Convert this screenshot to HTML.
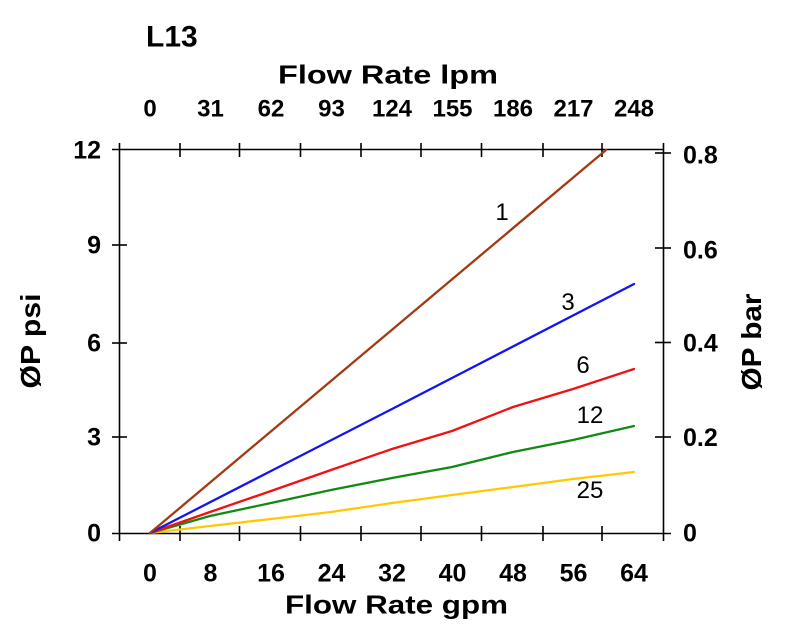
<!DOCTYPE html>
<html>
<head>
<meta charset="utf-8">
<style>
html,body{margin:0;padding:0;background:#fff;}
svg{display:block;}
text{font-family:"Liberation Sans",Arial,sans-serif;fill:#000;}
.b{font-weight:bold;}
</style>
</head>
<body>
<svg width="796" height="640" viewBox="0 0 796 640" xmlns="http://www.w3.org/2000/svg">
<rect width="796" height="640" fill="#fff"/>

<!-- title -->
<text class="b" x="146" y="46.5" font-size="30">L13</text>

<!-- top axis title & labels -->
<text class="b" x="278" y="83.5" font-size="26" textLength="220" lengthAdjust="spacingAndGlyphs">Flow Rate lpm</text>
<g class="b" font-size="24" text-anchor="middle">
<text x="150" y="116.5">0</text>
<text x="210.5" y="116.5">31</text>
<text x="271" y="116.5">62</text>
<text x="331.5" y="116.5">93</text>
<text x="392" y="116.5">124</text>
<text x="452.5" y="116.5">155</text>
<text x="513" y="116.5">186</text>
<text x="573.5" y="116.5">217</text>
<text x="634" y="116.5">248</text>
</g>

<!-- bottom labels -->
<g class="b" font-size="25" text-anchor="middle">
<text x="150" y="581.5">0</text>
<text x="210.5" y="581.5">8</text>
<text x="271" y="581.5">16</text>
<text x="331.5" y="581.5">24</text>
<text x="392" y="581.5">32</text>
<text x="452.5" y="581.5">40</text>
<text x="513" y="581.5">48</text>
<text x="573.5" y="581.5">56</text>
<text x="634" y="581.5">64</text>
</g>
<text class="b" x="285" y="613.5" font-size="26" textLength="223" lengthAdjust="spacingAndGlyphs">Flow Rate gpm</text>

<!-- left labels -->
<g class="b" font-size="25" text-anchor="end">
<text x="101" y="158.5">12</text>
<text x="101" y="253.5">9</text>
<text x="101" y="351.5">6</text>
<text x="101" y="445.5">3</text>
<text x="101" y="541.5">0</text>
</g>
<text class="b" font-size="28" text-anchor="middle" transform="translate(40,341) rotate(-90)" textLength="95" lengthAdjust="spacingAndGlyphs">ØP psi</text>

<!-- right labels -->
<g class="b" font-size="25">
<text x="683" y="163.5">0.8</text>
<text x="683" y="258.5">0.6</text>
<text x="683" y="351.5">0.4</text>
<text x="683" y="446">0.2</text>
<text x="683" y="541.5">0</text>
</g>
<text class="b" font-size="28" text-anchor="middle" transform="translate(761,342) rotate(-90)" textLength="97" lengthAdjust="spacingAndGlyphs">ØP bar</text>

<!-- axes -->
<g stroke="#000" stroke-width="1.6" fill="none">
<line x1="119.5" y1="143" x2="119.5" y2="541"/>
<line x1="663.5" y1="143" x2="663.5" y2="541"/>
<line x1="112" y1="149.5" x2="664" y2="149.5"/>
<line x1="112" y1="533.5" x2="671" y2="533.5"/>
<!-- left ticks -->
<line x1="112" y1="245" x2="127" y2="245"/>
<line x1="112" y1="343" x2="127" y2="343"/>
<line x1="112" y1="437" x2="127" y2="437"/>
<!-- right ticks -->
<line x1="655" y1="153" x2="671" y2="153"/>
<line x1="655" y1="248" x2="671" y2="248"/>
<line x1="655" y1="342.5" x2="671" y2="342.5"/>
<line x1="655" y1="437" x2="671" y2="437"/>
<!-- top ticks -->
<line x1="180" y1="143" x2="180" y2="157"/>
<line x1="239.5" y1="143" x2="239.5" y2="157"/>
<line x1="300.5" y1="143" x2="300.5" y2="157"/>
<line x1="361" y1="143" x2="361" y2="157"/>
<line x1="421" y1="143" x2="421" y2="157"/>
<line x1="481.5" y1="143" x2="481.5" y2="157"/>
<line x1="543" y1="143" x2="543" y2="157"/>
<line x1="602" y1="143" x2="602" y2="157"/>
<!-- bottom ticks -->
<line x1="180" y1="526" x2="180" y2="541"/>
<line x1="239.5" y1="526" x2="239.5" y2="541"/>
<line x1="300.5" y1="526" x2="300.5" y2="541"/>
<line x1="361" y1="526" x2="361" y2="541"/>
<line x1="421" y1="526" x2="421" y2="541"/>
<line x1="481.5" y1="526" x2="481.5" y2="541"/>
<line x1="543" y1="526" x2="543" y2="541"/>
<line x1="602" y1="526" x2="602" y2="541"/>
</g>

<!-- series -->
<g fill="none" stroke-width="2.3" stroke-linejoin="round" stroke-linecap="round">
<polyline stroke="#FFC800" points="150,533 210,526 271,519 331,512 392,503 452,495 513,487 573,479 634,472"/>
<polyline stroke="#128A12" points="150,533 210,516 271,503 331,490 392,478 452,467 513,452 573,440 634,426"/>
<polyline stroke="#F01212" points="150,533 210,512 271,491 331,470 392,449 452,431 513,407 573,389 634,369"/>
<polyline stroke="#1414F0" points="150,533 271,471 392,409 452,378 634,284"/>
<polyline stroke="#A33A10" points="150,533 606,150"/>
</g>

<!-- curve labels -->
<g font-size="24" text-anchor="middle">
<text x="502" y="220">1</text>
<text x="568" y="310">3</text>
<text x="583" y="373">6</text>
<text x="590" y="423">12</text>
<text x="590" y="498">25</text>
</g>
</svg>
</body>
</html>
